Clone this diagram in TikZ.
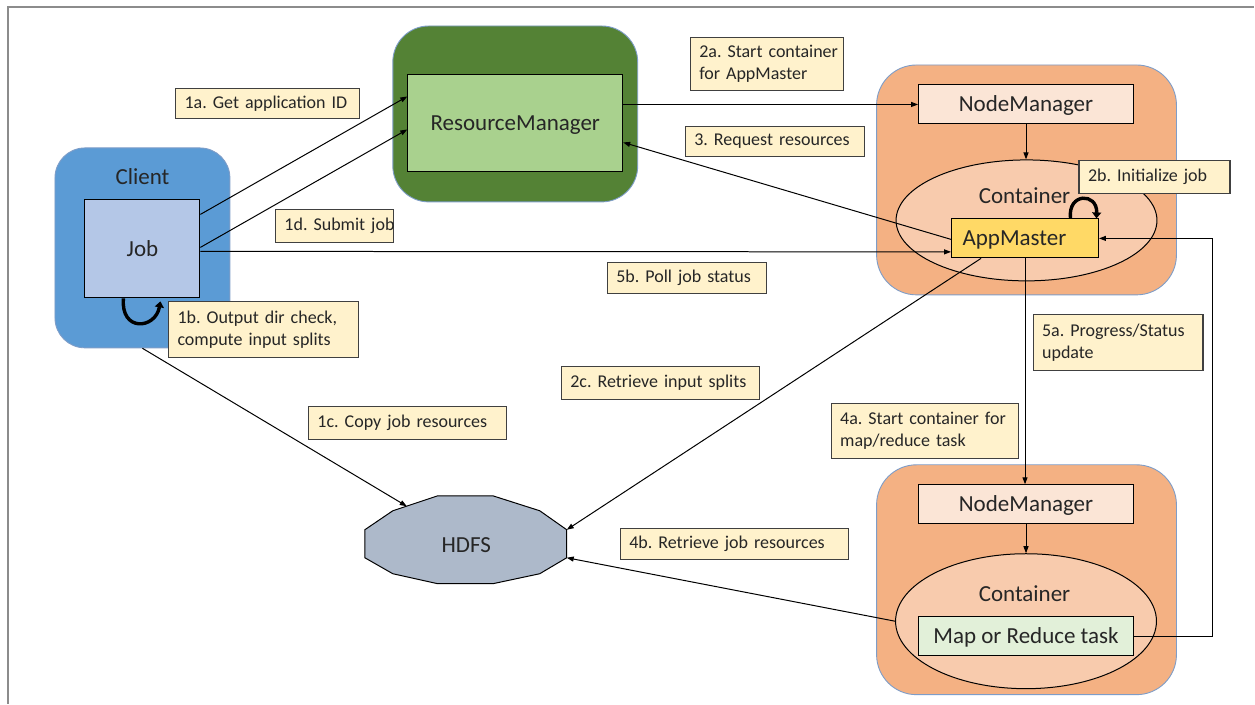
\documentclass[tikz,border=0pt]{standalone}
\usepackage{fontspec}
\setmainfont{Carlito}
\usetikzlibrary{arrows.meta,shapes.geometric,calc}
\frenchspacing
\definecolor{txt}{HTML}{262626}
\definecolor{edgeblue}{HTML}{7E9DC8}
\definecolor{clientblue}{HTML}{5B9BD5}
\definecolor{jobblue}{HTML}{B4C7E7}
\definecolor{rmdark}{HTML}{548235}
\definecolor{rmlight}{HTML}{A9D18E}
\definecolor{nmouter}{HTML}{F4B183}
\definecolor{nmbox}{HTML}{FBE5D6}
\definecolor{contfill}{HTML}{F8CBAD}
\definecolor{amfill}{HTML}{FFD966}
\definecolor{taskfill}{HTML}{E2F0D9}
\definecolor{hdfsfill}{HTML}{ADB9CA}
\definecolor{notefill}{HTML}{FFF2CC}
\definecolor{noteedge}{HTML}{404040}
\definecolor{framegray}{HTML}{8C8C8C}
\newcommand\bigtext{\fontsize{23}{27}\selectfont}
\newcommand\notetext{\fontsize{18}{22}\selectfont}

\begin{document}
\begin{tikzpicture}[x=1pt,y=-1pt,
  panel/.style={draw=edgeblue,line width=0.9pt,rounded corners=#1,inner sep=0pt},
  block/.style={draw=black,line width=1pt,inner sep=0pt,font=\bigtext,text=txt,text height=15pt,text depth=0pt},
  title/.style={font=\bigtext,text=txt,inner sep=0pt,anchor=base},
  cont/.style={ellipse,draw=black,line width=1pt,fill=contfill,inner sep=0pt},
  note/.style={draw=noteedge,line width=1.2pt,fill=notefill,font=\notetext,text=txt,align=left,anchor=north west,inner xsep=9pt,inner ysep=0pt},
  arr/.style={draw=black,line width=1pt,-{Triangle[length=7pt,width=5pt]}},
  selfloop/.style={draw=black,line width=3.4pt,-{Triangle[length=6pt,width=9pt]}},
]
\fill[white] (0,0) rectangle (1255,704);
\draw[framegray,line width=1.2pt] (8,704) -- (8,7) -- (1255,7);

% Client side
\node[panel=30pt,fill=clientblue,minimum width=175pt,minimum height=200pt] (client) at (142.5,248) {};
\node[title] (clienttitle) at (142.5,185) {Client};
\node[block,fill=jobblue,minimum width=115pt,minimum height=98pt] (job) at (142.5,249) {Job};

% ResourceManager
\node[panel=36pt,fill=rmdark,minimum width=245pt,minimum height=176pt] (rmpanel) at (515.5,114) {};
\node[block,fill=rmlight,minimum width=215pt,minimum height=97pt] (rm) at (515.5,123.5) {ResourceManager};

% Node running the AppMaster
\node[panel=40pt,fill=nmouter,minimum width=300pt,minimum height=230pt] (node1) at (1027,180) {};
\node[block,fill=nmbox,minimum width=215pt,minimum height=39pt] (nm1) at (1026.5,104.5) {NodeManager};
\node[cont,minimum width=261pt,minimum height=121pt] (c1) at (1027,220.5) {};
\node[title] (c1title) at (1025,204) {Container};
\node[block,fill=amfill,minimum width=147pt,minimum height=39pt,text width=125pt,align=left] (am) at (1025.5,238.5) {AppMaster};

% Node running a task
\node[panel=40pt,fill=nmouter,minimum width=300pt,minimum height=230pt] (node2) at (1027,580) {};
\node[block,fill=nmbox,minimum width=215pt,minimum height=39pt] (nm2) at (1026.5,504.5) {NodeManager};
\node[cont,minimum width=261pt,minimum height=135pt] (c2) at (1026.5,621.5) {};
\node[title] (c2title) at (1025,602) {Container};
\node[block,fill=taskfill,minimum width=215pt,minimum height=39pt] (task) at (1026.5,636.5) {Map or Reduce task};

% HDFS
\coordinate (h1) at (438,496);
\coordinate (h2) at (493,496);
\coordinate (h3) at (540,511);
\coordinate (h4) at (567,530);
\coordinate (h5) at (567,558);
\coordinate (h6) at (540,574);
\coordinate (h7) at (493,584);
\coordinate (h8) at (438,584);
\coordinate (h9) at (393,574);
\coordinate (h10) at (365,558);
\coordinate (h11) at (365,530);
\coordinate (h12) at (393,511);
\draw[fill=hdfsfill,line width=1pt] (h1) -- (h2) -- (h3) -- (h4) -- (h5) -- (h6) -- (h7) -- (h8) -- (h9) -- (h10) -- (h11) -- (h12) -- cycle;
\node[title] (hdfs) at (466.5,553) {HDFS};
\coordinate (hin1) at (407,506.5);
\coordinate (hin4) at (567,558);

% Connectors
\draw[arr] ($(job.north east)+(0,15)$) -- ($(rm.north west)+(0,22)$);
\draw[arr] ($(job.north east)+(0,48)$) -- ($(rm.north west)+(0,55)$);
\draw[arr] ($(job.north east)+(0,52)$) -- ($(am.south west)+(0,-6.5)$);
\draw[arr] (client.south) -- (hin1);
\draw[arr] ($(rm.north east)+(0,30)$) -- (nm1.west);
\draw[arr] ($(am.north west)+(0,21)$) -- ($(rm.north east)+(0,68)$);
\draw[arr] (nm1.south) -- (nm1.south |- c1.north);
\draw[arr] ($(am.south west)+(30,0)$) -- (h4);
\draw[arr] (am.south) -- (am.south |- nm2.north);
\draw[arr] (nm2.south) -- (nm2.south |- c2.north);
\draw[arr] (c2.west) -- (hin4);
\draw[arr] (task.east) -- ++(79,0) |- (am.east);

% Step labels
\node[note,text width=166pt,minimum height=30pt] (n1a) at (175,88) {\mbox{1a. Get application ID}};
\node[note,text width=135pt,minimum height=53pt] (n2a) at (690,37) {\mbox{2a. Start container}\\\mbox{for AppMaster}};
\node[note,text width=161pt,minimum height=30pt] (n3) at (685,126) {\mbox{3. Request resources}};
\node[note,text width=100pt,minimum height=33pt] (n1d) at (275,209) {\mbox{1d. Submit job}};
\node[note,text width=141pt,minimum height=31pt] (n5b) at (607,262) {\mbox{5b. Poll job status}};
\node[note,text width=172pt,minimum height=56pt] (n1b) at (168,301) {\mbox{1b. Output dir check,}\\\mbox{compute input splits}};
\node[note,text width=180pt,minimum height=33pt] (n2c) at (561,366) {\mbox{2c. Retrieve input splits}};
\node[note,text width=180pt,minimum height=33pt] (n1c) at (308,406) {\mbox{1c. Copy job resources}};
\node[note,text width=169pt,minimum height=55pt] (n4a) at (831,403) {\mbox{4a. Start container for}\\\mbox{map/reduce task}};
\node[note,text width=210pt,minimum height=31pt] (n4b) at (620,528) {\mbox{4b. Retrieve job resources}};
\node[note,text width=152pt,minimum height=56pt] (n5a) at (1033,314) {\mbox{5a. Progress/Status}\\\mbox{update}};
\node[note,text width=133pt,minimum height=33pt] (n2b) at (1079,160) {\mbox{2b. Initialize job}};

% Self loops
\draw[selfloop] ($(job.south)+(-19,0)$) .. controls +(-3,34) and +(-5,28) .. ($(job.south)+(18,3)$);
\draw[selfloop] ($(am.north)+(45.5,0)$) .. controls +(-3,-26) and +(1,-26) .. ($(am.north)+(71.5,0)$);
\end{tikzpicture}
\end{document}
